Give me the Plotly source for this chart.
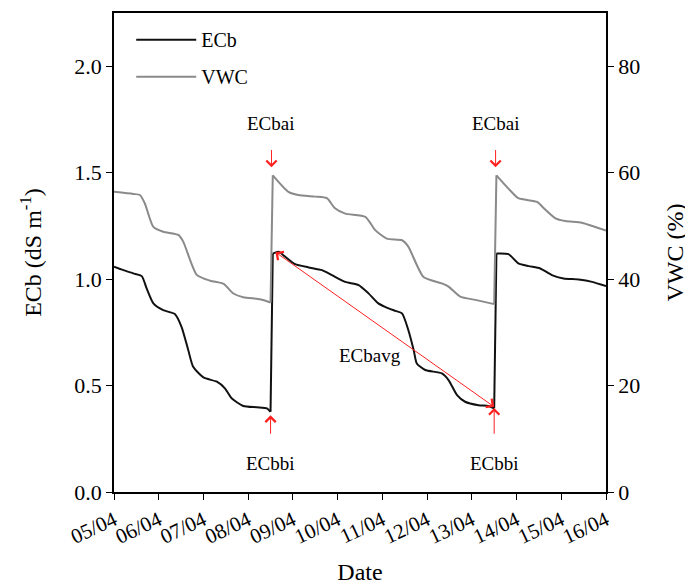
import plotly.graph_objects as go

# ---------------- data ----------------
vwc_time = [
    "2020-04-05 00:00", "2020-04-05 10:20", "2020-04-05 13:55", "2020-04-05 16:34",
    "2020-04-05 21:07", "2020-04-06 02:24", "2020-04-06 10:34", "2020-04-06 13:12",
    "2020-04-06 20:24", "2020-04-07 03:36", "2020-04-07 10:48", "2020-04-07 16:05",
    "2020-04-07 21:22", "2020-04-08 06:29", "2020-04-08 12:00", "2020-04-08 13:12",
    "2020-04-08 21:36", "2020-04-09 02:53", "2020-04-09 12:00", "2020-04-09 18:14",
    "2020-04-09 22:34", "2020-04-10 04:05", "2020-04-10 14:53", "2020-04-10 20:10",
    "2020-04-11 02:24", "2020-04-11 10:34", "2020-04-11 13:55", "2020-04-11 22:05",
    "2020-04-12 07:55", "2020-04-12 11:31", "2020-04-12 17:46", "2020-04-13 01:55",
    "2020-04-13 12:00", "2020-04-13 13:12", "2020-04-13 19:41", "2020-04-14 00:58",
    "2020-04-14 11:02", "2020-04-14 14:38", "2020-04-14 20:53", "2020-04-15 02:10",
    "2020-04-15 11:02", "2020-04-15 18:14", "2020-04-16 00:00",
]
vwc_values = [
    56.4, 56.0, 55.8, 54.2,
    49.8, 48.9, 48.3, 47.0,
    40.8, 39.7, 39.1, 37.3,
    36.6, 36.2, 35.6, 59.5,
    56.4, 55.8, 55.5, 55.2,
    53.3, 52.3, 51.7, 49.2,
    47.6, 47.3, 46.1, 40.4,
    39.2, 38.6, 36.7, 36.1,
    35.3, 59.5, 57.0, 55.2,
    54.5, 53.3, 51.4, 50.9,
    50.6, 49.8, 49.1,
]

ecb_time = [
    "2020-04-05 00:00", "2020-04-05 05:02", "2020-04-05 10:19", "2020-04-05 14:53",
    "2020-04-05 17:31", "2020-04-05 21:07", "2020-04-06 02:24", "2020-04-06 08:38",
    "2020-04-06 12:14", "2020-04-06 15:50", "2020-04-06 18:29", "2020-04-07 00:00",
    "2020-04-07 07:12", "2020-04-07 11:31", "2020-04-07 15:07", "2020-04-07 21:22",
    "2020-04-08 04:34", "2020-04-08 10:05", "2020-04-08 12:00", "2020-04-08 13:12",
    "2020-04-08 16:19", "2020-04-08 19:55", "2020-04-09 01:12", "2020-04-09 08:24",
    "2020-04-09 15:36", "2020-04-09 20:53", "2020-04-10 04:05", "2020-04-10 11:17",
    "2020-04-10 16:34", "2020-04-10 21:50", "2020-04-11 01:26", "2020-04-11 06:58",
    "2020-04-11 10:34", "2020-04-11 13:55", "2020-04-11 16:48", "2020-04-11 18:29",
    "2020-04-11 23:02", "2020-04-12 07:55", "2020-04-12 11:31", "2020-04-12 16:05",
    "2020-04-12 20:24", "2020-04-13 03:36", "2020-04-13 08:53", "2020-04-13 12:00",
    "2020-04-13 13:12", "2020-04-13 19:41", "2020-04-14 00:58", "2020-04-14 06:29",
    "2020-04-14 12:43", "2020-04-14 18:58", "2020-04-15 01:12", "2020-04-15 09:22",
    "2020-04-15 16:34", "2020-04-16 00:00",
]
ecb_values = [
    1.058, 1.042, 1.027, 1.014,
    0.956, 0.886, 0.854, 0.836,
    0.776, 0.667, 0.588, 0.538,
    0.518, 0.487, 0.440, 0.404,
    0.398, 0.393, 0.377, 1.120,
    1.128, 1.105, 1.070, 1.055,
    1.042, 1.019, 0.987, 0.972,
    0.933, 0.886, 0.870, 0.851,
    0.839, 0.761, 0.667, 0.604,
    0.573, 0.557, 0.526, 0.455,
    0.424, 0.408, 0.404, 0.393,
    1.120, 1.117, 1.074, 1.061,
    1.050, 1.019, 1.003, 0.998,
    0.987, 0.967,
]

tick_dates = ["2020-04-%02d" % d for d in range(5, 17)]
tick_labels = ["05/04", "06/04", "07/04", "08/04", "09/04", "10/04",
               "11/04", "12/04", "13/04", "14/04", "15/04", "16/04"]
ecb_ticks = [0.0, 0.5, 1.0, 1.5, 2.0]
vwc_ticks = [0, 20, 40, 60, 80]

# annotation anchors: (time, ECb-scale value)
bai_time = ["2020-04-08 12:30", "2020-04-13 12:45"]
bbi_time = ["2020-04-08 12:00", "2020-04-13 12:00"]
avg_start = ("2020-04-08 12:30", 1.14)
avg_end = ("2020-04-13 12:00", 0.40)
avg_label = ("2020-04-10 17:30", 0.643)

FONT = "Liberation Serif"
RED = "#ff2020"
ECB_COLOR = "#111111"
VWC_COLOR = "#8a8a8a"


def jump_indices(values, thresh):
    """indices i where values[i] -> values[i+1] is an irrigation jump"""
    return [i for i in range(len(values) - 1) if values[i + 1] - values[i] > thresh]


def add_series(fig, times, values, name, color, yaxis, thresh, group):
    jumps = jump_indices(values, thresh)
    bounds = [0] + [j + 1 for j in jumps] + [len(values)]
    # smooth drying segments
    for k in range(len(bounds) - 1):
        a, b = bounds[k], bounds[k + 1]
        fig.add_trace(go.Scatter(
            x=times[a:b], y=values[a:b], name=name, mode="lines", yaxis=yaxis,
            line=dict(color=color, width=2, shape="spline", smoothing=0.6),
            legendgroup=group, showlegend=(k == 0), hoverinfo="x+y"))
    # straight irrigation jumps
    jx, jy = [], []
    for j in jumps:
        jx += [times[j], times[j + 1], None]
        jy += [values[j], values[j + 1], None]
    fig.add_trace(go.Scatter(x=jx, y=jy, mode="lines", yaxis=yaxis, showlegend=False,
                             line=dict(color=color, width=2), legendgroup=group))


fig = go.Figure()
add_series(fig, ecb_time, ecb_values, "ECb", ECB_COLOR, "y", 0.3, "a")
add_series(fig, vwc_time, vwc_values, "VWC", VWC_COLOR, "y2", 10, "b")

ann = []
for t in bai_time:
    ann.append(dict(x=t, y=1.73, text="ECbai", showarrow=False,
                    font=dict(family=FONT, size=19, color="black")))
    ann.append(dict(x=t, y=1.525, ax=t, ay=1.665, xref="x", yref="y", axref="x", ayref="y",
                    text=" ", showarrow=True, arrowhead=4, arrowsize=2, arrowwidth=1,
                    arrowcolor=RED))
for t, tip in zip(bbi_time, [0.36, 0.395]):
    ann.append(dict(x=t, y=0.136, text="ECbbi", showarrow=False,
                    font=dict(family=FONT, size=19, color="black")))
    ann.append(dict(x=t, y=tip, ax=t, ay=0.215, xref="x", yref="y", axref="x", ayref="y",
                    text=" ", showarrow=True, arrowhead=4, arrowsize=2, arrowwidth=1,
                    arrowcolor=RED))
ann.append(dict(x=avg_end[0], y=avg_end[1], ax=avg_start[0], ay=avg_start[1],
                xref="x", yref="y", axref="x", ayref="y", text=" ", showarrow=True,
                arrowhead=4, startarrowhead=4, arrowside="end+start", arrowsize=2,
                startarrowsize=2, arrowwidth=1, arrowcolor=RED))
ann.append(dict(x=avg_label[0], y=avg_label[1], text="ECbavg", showarrow=False,
                font=dict(family=FONT, size=19, color="black")))

fig.update_layout(
    width=685, height=577,
    margin=dict(l=106, r=87, t=5, b=93),
    plot_bgcolor="white", paper_bgcolor="white",
    font=dict(family=FONT, size=20, color="black"),
    showlegend=True,
    legend=dict(x=0.035, y=0.985, xanchor="left", yanchor="top",
                bgcolor="rgba(0,0,0,0)", font=dict(family=FONT, size=20),
                tracegroupgap=8, itemwidth=60),
    annotations=ann,
    xaxis=dict(type="date", range=["2020-04-05", "2020-04-16"], automargin=False,
               tickmode="array", tickvals=tick_dates, ticktext=tick_labels,
               tickangle=-25, ticks="outside", ticklen=6, tickcolor="black",
               showline=True, linecolor="black", linewidth=1.5, mirror=True,
               showgrid=False, zeroline=False,
               title=dict(text="Date", font=dict(family=FONT, size=24), standoff=22),
               tickfont=dict(family=FONT, size=21)),
    xaxis2=dict(type="date", range=["2020-04-05", "2020-04-16"], overlaying="x",
                matches="x", automargin=False, tickmode="array", tickvals=tick_dates,
                ticks="inside", ticklen=6, tickcolor="black", showticklabels=False,
                showline=False, showgrid=False, zeroline=False, side="bottom",
                anchor="y"),
    yaxis=dict(range=[0, 2.25], tickmode="array", tickvals=ecb_ticks, tickformat=".1f",
               automargin=False,
               ticks="outside", ticklen=6, tickcolor="black",
               showline=True, linecolor="black", linewidth=1.5, mirror=False,
               showgrid=False, zeroline=False,
               title=dict(text="ECb (dS m<sup>-1</sup>)", font=dict(family=FONT, size=24),
                          standoff=26),
               tickfont=dict(family=FONT, size=22)),
    yaxis2=dict(range=[0, 90], overlaying="y", side="right", tickmode="array",
                automargin=False,
                tickvals=vwc_ticks, ticks="outside", ticklen=6, tickcolor="black",
                showline=True, linecolor="black", linewidth=1.5,
                showgrid=False, zeroline=False,
                title=dict(text="VWC (%)", font=dict(family=FONT, size=24), standoff=27),
                tickfont=dict(family=FONT, size=22)),
)

fig.write_html("out.html")
